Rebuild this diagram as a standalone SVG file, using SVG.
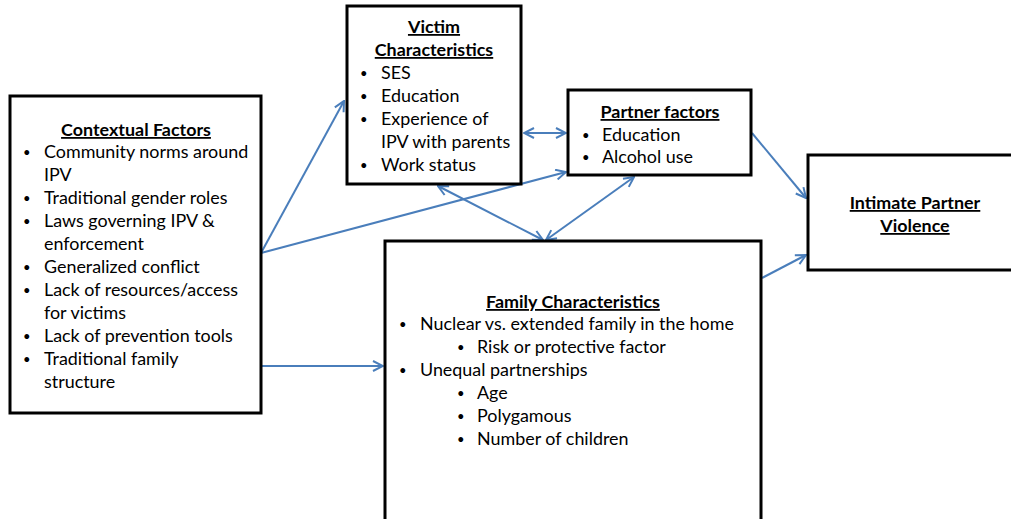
<svg xmlns="http://www.w3.org/2000/svg" width="1011" height="519" viewBox="0 0 1011 519">
<defs>
<style>
.box{fill:#fff;stroke:#000;stroke-width:3}
text{font-family:Lato,"Open Sans",sans-serif;font-size:17.9px;fill:#000}
.t{font-weight:bold;text-decoration:underline;text-anchor:middle}
.b{font-size:13px}
.c{stroke:#4a7ebb;stroke-width:2;fill:none}
</style>
<marker id="ah" viewBox="0 0 12 12" refX="11" refY="6" markerWidth="12" markerHeight="12" markerUnits="userSpaceOnUse" orient="auto-start-reverse">
<path d="M1,1 L11,6 L1,11" fill="none" stroke="#4a7ebb" stroke-width="2"/>
</marker>
</defs>
<rect width="1011" height="519" fill="#fff"/>
<g id="connectors">
<line class="c" x1="261" y1="253" x2="344" y2="101" marker-end="url(#ah)"/>
<line class="c" x1="261" y1="253" x2="566" y2="172" marker-end="url(#ah)"/>
<line class="c" x1="261" y1="366" x2="383" y2="366" marker-end="url(#ah)"/>
<line class="c" x1="524" y1="133" x2="566" y2="133" marker-start="url(#ah)" marker-end="url(#ah)"/>
<line class="c" x1="438" y1="186" x2="543" y2="240" marker-start="url(#ah)" marker-end="url(#ah)"/>
<line class="c" x1="634" y1="177" x2="546" y2="240" marker-start="url(#ah)" marker-end="url(#ah)"/>
<line class="c" x1="752" y1="133" x2="806" y2="198" marker-end="url(#ah)"/>
<line class="c" x1="762" y1="278" x2="806" y2="255" marker-end="url(#ah)"/>
</g>
<g id="contextual">
<rect class="box" x="10" y="96" width="251" height="317"/>
<text class="t" x="136" y="136">Contextual Factors</text>
<text class="b" x="23" y="157">•</text><text x="44" y="158">Community norms around</text>
<text x="44" y="181">IPV</text>
<text class="b" x="23" y="203">•</text><text x="44" y="204">Traditional gender roles</text>
<text class="b" x="23" y="226">•</text><text x="44" y="227">Laws governing IPV &amp;</text>
<text x="44" y="250">enforcement</text>
<text class="b" x="23" y="272">•</text><text x="44" y="273">Generalized conflict</text>
<text class="b" x="23" y="295">•</text><text x="44" y="296">Lack of resources/access</text>
<text x="44" y="319">for victims</text>
<text class="b" x="23" y="341">•</text><text x="44" y="342">Lack of prevention tools</text>
<text class="b" x="23" y="364">•</text><text x="44" y="365">Traditional family</text>
<text x="44" y="388">structure</text>
</g>
<g id="victim">
<rect class="box" x="347" y="6" width="174" height="178"/>
<text class="t" x="434" y="33">Victim</text>
<text class="t" x="434" y="56">Characteristics</text>
<text class="b" x="360" y="78">•</text><text x="381" y="79">SES</text>
<text class="b" x="360" y="101">•</text><text x="381" y="102">Education</text>
<text class="b" x="360" y="124">•</text><text x="381" y="125">Experience of</text>
<text x="381" y="148">IPV with parents</text>
<text class="b" x="360" y="170">•</text><text x="381" y="171">Work status</text>
</g>
<g id="partner">
<rect class="box" x="568" y="90" width="183" height="85"/>
<text class="t" x="660" y="118">Partner factors</text>
<text class="b" x="582" y="140">•</text><text x="602" y="141">Education</text>
<text class="b" x="582" y="162">•</text><text x="602" y="163">Alcohol use</text>
</g>
<g id="ipv">
<rect class="box" x="808" y="155" width="214" height="115"/>
<text class="t" x="915" y="209">Intimate Partner</text>
<text class="t" x="915" y="232">Violence</text>
</g>
<g id="family">
<rect class="box" x="385" y="241" width="376" height="282"/>
<text class="t" x="573" y="308">Family Characteristics</text>
<text class="b" x="399" y="329">•</text><text x="420" y="330">Nuclear vs. extended family in the home</text>
<text class="b" x="457" y="352">•</text><text x="477" y="353">Risk or protective factor</text>
<text class="b" x="399" y="375">•</text><text x="420" y="376">Unequal partnerships</text>
<text class="b" x="457" y="398">•</text><text x="477" y="399">Age</text>
<text class="b" x="457" y="421">•</text><text x="477" y="422">Polygamous</text>
<text class="b" x="457" y="444">•</text><text x="477" y="445">Number of children</text>
</g>
</svg>
